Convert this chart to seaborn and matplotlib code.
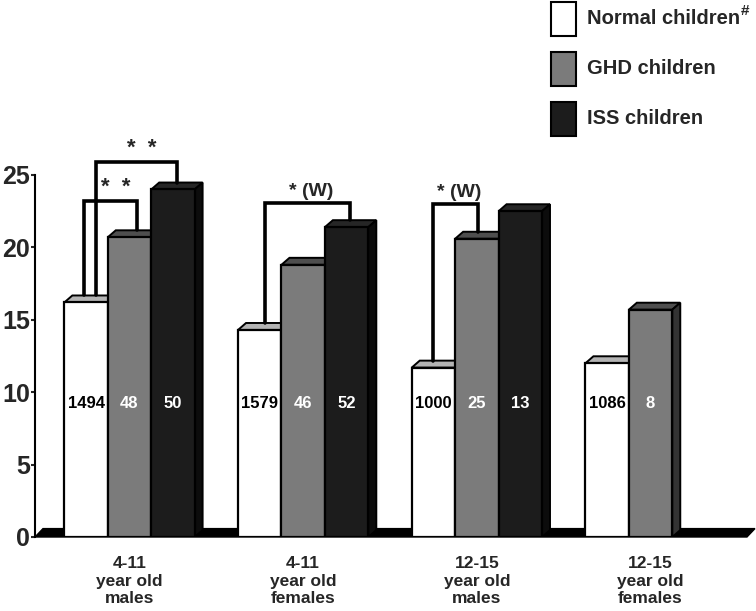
import matplotlib
matplotlib.use('Agg')
import matplotlib.pyplot as plt
from matplotlib.patches import Polygon, Rectangle
import seaborn as sns
import pandas as pd

# data
groups = ['4-11\nyear old\nmales', '4-11\nyear old\nfemales',
          '12-15\nyear old\nmales', '12-15\nyear old\nfemales']
series = ['Normal children', 'GHD children', 'ISS children']
normal = [16.2, 14.3, 11.7, 12.0]
ghd = [20.7, 18.8, 20.6, 15.7]
iss = [24.0, 21.4, 22.5, None]
n_normal = ['1494', '1579', '1000', '1086']
n_ghd = ['48', '46', '25', '8']
n_iss = ['50', '52', '13', None]
yticks = [0, 5, 10, 15, 20, 25]

# significance brackets: group, left bar, right bar, height, label
brackets = [(0, 0, 1, 23.2, '*  *'),
            (0, 0, 2, 25.9, '*  *'),
            (1, 0, 2, 23.05, '* (W)'),
            (2, 0, 1, 23.0, '* (W)')]
# where along each bar the legs stand (fraction of bar width)
leg_pos = [(0.46, 0.67), (0.72, 0.6), (0.61, 0.58), (0.49, 0.52)]

face = ['#ffffff', '#7b7b7b', '#1c1c1c']
top_face = ['#b4b4b4', '#4e4e4e', '#262626']
side_face = ['#9a9a9a', '#333333', '#0c0c0c']
txt_col = ['black', 'white', 'white']

rows = []
for vals, nums, s in [(normal, n_normal, series[0]), (ghd, n_ghd, series[1]), (iss, n_iss, series[2])]:
    for g, v, n in zip(groups, vals, nums):
        if v is not None:
            rows.append({'group': g, 'series': s, 'value': v, 'n': n})
df = pd.DataFrame(rows)

sns.set_style('white')
plt.rcParams['font.family'] = ['Liberation Sans', 'DejaVu Sans']
plt.rcParams['font.weight'] = 'bold'

W, H = 756, 611
fig = plt.figure(figsize=(W / 100, H / 100), dpi=100)
ax = fig.add_axes([35 / W, 1 - 537 / H, (W - 35) / W, (537 - 175) / H])

sns.barplot(data=df, x='group', y='value', hue='series', order=groups,
            hue_order=series, palette=face, width=0.75, gap=0,
            edgecolor='black', linewidth=1.6, errorbar=None, legend=False,
            ax=ax, zorder=3)

ax.set_xlim(-0.544, 3.607)
ax.set_ylim(0, 25)

DX, DY = 0.046, 0.48  # depth of the 3D look in data units

# floor
ax.add_patch(Polygon([(-0.544, 0), (3.555, 0), (3.555 + DX, 0.58), (-0.544 + DX, 0.58)],
                     closed=True, facecolor='black', edgecolor='black', lw=1, zorder=1,
                     clip_on=False))

# collect bars by (series, group)
bars = {}
for p in ax.patches:
    if p.get_zorder() != 3:
        continue
    h = p.get_height()
    if h != h or h == 0:
        continue
    cx = p.get_x() + p.get_width() / 2
    gi = int(round(cx))
    si = int(round((cx - gi) / 0.25)) + 1
    bars[(si, gi)] = p

for (si, gi), p in bars.items():
    x0, w, h = p.get_x(), p.get_width(), p.get_height()
    x1 = x0 + w
    ax.add_patch(Polygon([(x0, h), (x1, h), (x1 + DX, h + DY), (x0 + DX, h + DY)],
                         closed=True, facecolor=top_face[si], edgecolor='black',
                         lw=1.4, zorder=2))
    ax.add_patch(Polygon([(x1, 0), (x1 + DX, DY), (x1 + DX, h + DY), (x1, h)],
                         closed=True, facecolor=side_face[si], edgecolor='black',
                         lw=1.4, zorder=2))

# n labels
for (si, gi), p in bars.items():
    n = df[(df['series'] == series[si]) & (df['group'] == groups[gi])]['n'].iloc[0]
    ax.text(p.get_x() + p.get_width() / 2, 9.25, n, ha='center', va='center',
            fontsize=12, fontweight='bold', color=txt_col[si], zorder=5)

# brackets
for (gi, a, b, top, label), (fa, fb) in zip(brackets, leg_pos):
    pa, pb = bars[(a, gi)], bars[(b, gi)]
    xa = pa.get_x() + fa * pa.get_width()
    xb = pb.get_x() + fb * pb.get_width()
    ya = pa.get_height() + DY
    yb = pb.get_height() + DY
    ax.plot([xa, xa, xb, xb], [ya, top, top, yb], color='black', lw=2.6,
            solid_joinstyle='miter', clip_on=False, zorder=4)
    star = label.startswith('*  ')
    ax.text((xa + xb) / 2 + (0.03 if star else 0.02), top + 0.2, label,
            ha='center', va='bottom', fontsize=16 if star else 14,
            fontweight='bold', clip_on=False)

ax.set_yticks(yticks)
ax.set_yticklabels([str(t) for t in yticks], fontsize=18, fontweight='bold')
ax.set_xticks(range(len(groups)))
ax.set_xticklabels(groups, fontsize=12.5, fontweight='bold', linespacing=1.18)
ax.tick_params(axis='x', length=0, pad=14)
ax.tick_params(axis='y', length=3, width=1.5, direction='out', pad=0.5, left=True)
ax.set_xlabel('')
ax.set_ylabel('')
for s in ['top', 'right', 'bottom']:
    ax.spines[s].set_visible(False)
ax.spines['left'].set_linewidth(1.5)
ax.spines['left'].set_color('black')
ax.spines['left'].set_bounds(0, 25)

# legend
leg_y = [2, 52, 102]
for c, lab, y in zip(face, series, leg_y):
    fig.add_artist(Rectangle((551 / W, 1 - (y + 34) / H), 25 / W, 34 / H,
                             transform=fig.transFigure, facecolor=c,
                             edgecolor='black', lw=1.5))
    fig.text(587 / W, 1 - (y + 17) / H, lab, fontsize=14.5, fontweight='bold',
             ha='left', va='center')
fig.text(741 / W, 1 - 11 / H, '#', fontsize=11, fontweight='bold',
         ha='left', va='center')

fig.savefig('out.png', dpi=100)
